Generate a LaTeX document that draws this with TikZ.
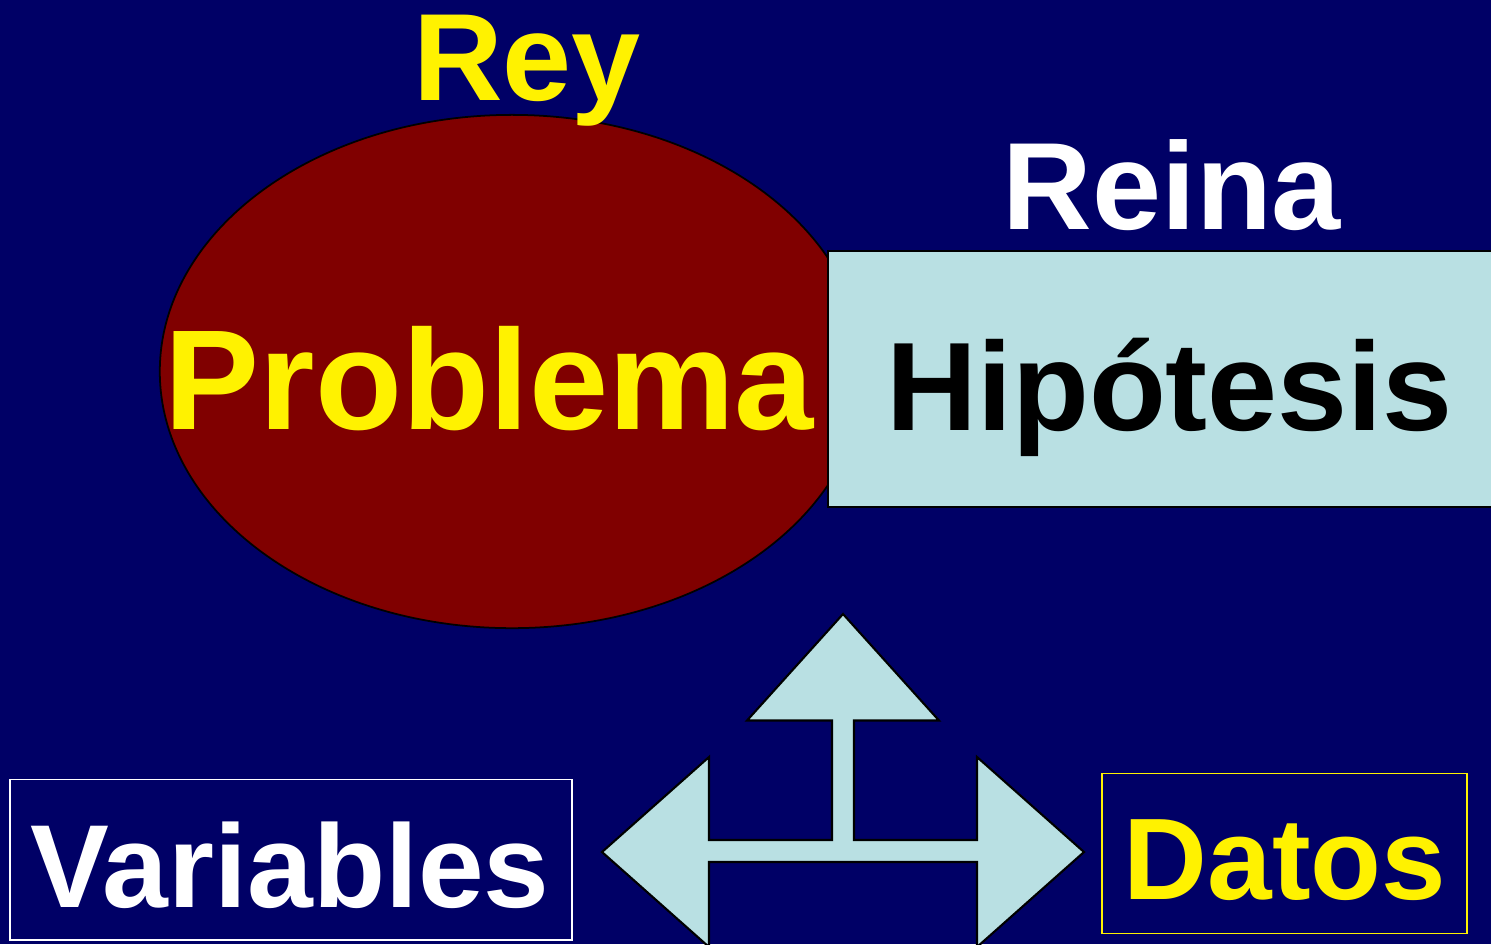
\documentclass[tikz,border=0pt]{standalone}
\usepackage{fontspec}
\setmainfont{Liberation Sans}
\usetikzlibrary{shapes.geometric}
\definecolor{navy}{RGB}{0,0,102}
\definecolor{maroon}{RGB}{128,0,0}
\definecolor{paleblue}{RGB}{185,224,227}
\newcommand{\wordsize}[1]{\fontsize{#1}{#1}\selectfont\bfseries}

\begin{document}
\begin{tikzpicture}[x=0.01cm,y=-0.01cm]
\tikzstyle{word}=[inner sep=0pt,anchor=base]

\tikzstyle{frame}=[draw,line width=0.6pt,inner sep=0pt]

\useasboundingbox (0,0) rectangle (1491,944);
\clip (0,0) rectangle (1491,944);
\fill [navy] (0,0) rectangle (1491,944);

\node (problem) [ellipse,frame,line width=0.5pt,fill=maroon,minimum width=7.04cm,minimum height=5.13cm] at (512,371.5) {};
\node (hypo) [frame,fill=paleblue,minimum width=6.83cm,minimum height=2.56cm] at (1169.5,379) {};

\node (rey) [word,text=yellow,font=\wordsize{35.3pt}] at (527,100) {Rey};
\node (reina) [word,text=white,font=\wordsize{35.3pt}] at (1172,229) {Reina};
\node (problema) [word,text=yellow,font=\wordsize{40.5pt}] at (489.5,429) {Problema};
\node (hipotesis) [word,text=black,font=\wordsize{35.8pt}] at (1169.5,430) {Hipótesis};

% three-way arrow
\draw [fill=paleblue,line width=0.6pt,line join=miter] (843,614) -- (939,720.5) -- (854,720.5) -- (854,840) -- (977,840) -- (977,757) -- (1084,852) -- (977,947) -- (977,862) -- (709,862) -- (709,947) -- (602,852) -- (709,757) -- (709,840) -- (832,840) -- (832,720.5) -- (747,720.5) -- cycle;

\node (varbox) [frame,line width=0.5pt,draw=white,minimum width=5.615cm,minimum height=1.605cm] at (291.25,859.75) {};
\node (datbox) [frame,line width=0.5pt,draw=yellow,minimum width=3.65cm,minimum height=1.60cm] at (1284.5,853.5) {};
\node (variables) [word,text=white,font=\wordsize{33.6pt}] at (290,907) {Variables};
\node (datos) [word,text=yellow,font=\wordsize{33pt}] at (1285,899) {Datos};

\end{tikzpicture}
\end{document}
